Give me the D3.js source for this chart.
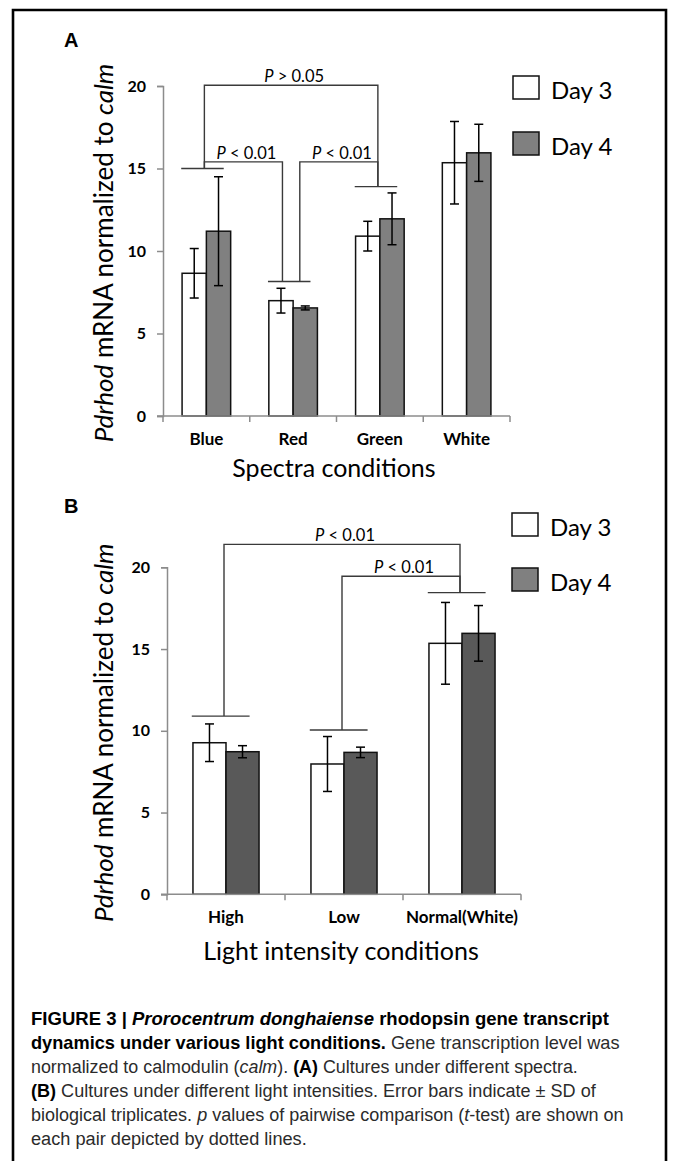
<!DOCTYPE html>
<html>
<head>
<meta charset="utf-8">
<script src="https://cdn.jsdelivr.net/npm/d3@7"></script>
<style>
  body { margin: 0; background: #fff; }
  .chart text { font-family: Lato, "Open Sans", sans-serif; fill: #000; }
  .caption text { font-family: "Liberation Sans", Arial, sans-serif; }
</style>
</head>
<body>
<svg id="fig" width="673" height="1161"></svg>
<script>
// ---------------- DATA ----------------
const seriesNames = ["Day 3", "Day 4"];
const yTicks = [0, 5, 10, 15, 20];

// panel A: spectra
const spectra = ["Blue", "Red", "Green", "White"];
const spectraDay3 = [8.65, 6.99, 10.9, 15.35];
const spectraDay3Sd = [1.5, 0.75, 0.9, 2.5];
const spectraDay4 = [11.2, 6.55, 11.95, 15.95];
const spectraDay4Sd = [3.3, 0.12, 1.57, 1.73];
const spectraGroupLine = [15.0, 8.15, 13.9, null];
const spectraPairs = [
  ["Blue", "Red", 15.4, "< 0.01"],
  ["Red", "Green", 15.4, "< 0.01"],
  ["Blue", "Green", 20.05, "> 0.05"],
];

// panel B: light intensity
const intensity = ["High", "Low", "Normal(White)"];
const intensityDay3 = [9.27, 7.97, 15.35];
const intensityDay3Sd = [1.15, 1.68, 2.5];
const intensityDay4 = [8.72, 8.68, 15.96];
const intensityDay4Sd = [0.37, 0.32, 1.7];
const intensityGroupLine = [10.9, 10.05, 18.45];
const intensityPairs = [
  ["High", "Normal(White)", 21.4, "< 0.01"],
  ["Low", "Normal(White)", 19.45, "< 0.01"],
];

const captionLines = [
  [["b", "FIGURE 3 | "], ["bi", "Prorocentrum donghaiense"], ["b", " rhodopsin gene transcript"]],
  [["b", "dynamics under various light conditions."], ["r", " Gene transcription level was"]],
  [["r", "normalized to calmodulin ("], ["i", "calm"], ["r", "). "], ["b", "(A)"], ["r", " Cultures under different spectra."]],
  [["b", "(B)"], ["r", " Cultures under different light intensities. Error bars indicate \u00b1 SD of"]],
  [["r", "biological triplicates. "], ["i", "p"], ["r", " values of pairwise comparison ("], ["i", "t"], ["r", "-test) are shown on"]],
  [["r", "each pair depicted by dotted lines."]],
];
const captionWidths = [578, 589, 547, 565, 593, 276];

const svg = d3.select("#fig");

// outer frame
svg.append("path")
  .attr("d", "M13,1170 V10 H666 V1170")
  .attr("fill", "none")
  .attr("stroke", "#000")
  .attr("stroke-width", 2.6);

// ---------------- PANEL ----------------
function drawPanel(opt) {
  const g = svg.append("g").attr("class", "chart");
  const cats = opt.categories;
  const rows = cats.map((c, i) => ({
    cat: c,
    vals: [
      { key: "d3", v: opt.day3[i], sd: opt.day3Sd[i] },
      { key: "d4", v: opt.day4[i], sd: opt.day4Sd[i] },
    ],
    group: opt.groupLine[i],
  }));

  const x = d3.scaleBand().domain(cats).range(opt.xRange);
  const bw = x.bandwidth();
  const x1 = d3.scaleBand().domain(["d3", "d4"]).range([0.22 * bw, 0.78 * bw]);
  const y = d3.scaleLinear().domain([0, 20]).range(opt.yRange);
  const fill = { d3: "#fff", d4: opt.day4Color };

  // bars
  const grp = g.selectAll(".cat").data(rows).enter().append("g")
    .attr("transform", (d) => `translate(${x(d.cat)},0)`);

  grp.selectAll("rect").data((d) => d.vals).enter().append("rect")
    .attr("x", (d) => x1(d.key))
    .attr("y", (d) => y(d.v))
    .attr("width", x1.bandwidth())
    .attr("height", (d) => y(0) - y(d.v))
    .attr("fill", (d) => fill[d.key])
    .attr("stroke", "#111")
    .attr("stroke-width", 1.5);

  // error bars
  const eb = grp.selectAll(".err").data((d) => d.vals).enter().append("g")
    .attr("stroke", "#000").attr("stroke-width", 1.5);
  const cx = (d) => x1(d.key) + x1.bandwidth() / 2;
  eb.append("line")
    .attr("x1", cx).attr("x2", cx)
    .attr("y1", (d) => y(d.v + d.sd)).attr("y2", (d) => y(d.v - d.sd));
  [1, -1].forEach((s) => {
    eb.append("line")
      .attr("x1", (d) => cx(d) - 4.5).attr("x2", (d) => cx(d) + 4.5)
      .attr("y1", (d) => y(d.v + s * d.sd)).attr("y2", (d) => y(d.v + s * d.sd));
  });

  // y axis
  const yAxis = g.append("g")
    .attr("transform", `translate(${opt.xRange[0]},0)`)
    .call(d3.axisLeft(y).tickValues(yTicks).tickSize(6).tickPadding(11));
  yAxis.select(".domain").attr("stroke", "#8c8c8c").attr("stroke-width", 1.5);
  yAxis.selectAll(".tick line").attr("stroke", "#8c8c8c").attr("stroke-width", 1.5);
  yAxis.selectAll(".tick text")
    .attr("font-size", 16).attr("font-weight", "bold")
    .style("font-family", "Lato, sans-serif").attr("fill", "#000");

  // x axis
  const xAxis = g.append("g").attr("transform", `translate(0,${y(0)})`);
  xAxis.append("line")
    .attr("x1", opt.xRange[0] - 6).attr("x2", opt.xRange[1])
    .attr("stroke", "#8c8c8c").attr("stroke-width", 1.5);
  const bounds = cats.map((c) => x(c)).concat([opt.xRange[1]]);
  xAxis.selectAll(".xt").data(bounds).enter().append("line")
    .attr("x1", (d) => d).attr("x2", (d) => d)
    .attr("y1", 0).attr("y2", 6)
    .attr("stroke", "#8c8c8c").attr("stroke-width", 1.5);
  xAxis.selectAll(".xl").data(cats).enter().append("text")
    .attr("x", (d) => x(d) + bw / 2)
    .attr("y", 29)
    .attr("text-anchor", "middle")
    .attr("font-size", 17).attr("font-weight", "bold")
    .text((d) => d);

  // significance brackets
  const lineColor = "#3a3a3a";
  const leftEnds = new Set(opt.pairs.map((p) => p[0]));
  const rightEnds = new Set(opt.pairs.map((p) => p[1]));
  const anchor = (c, side) => {
    let px = x(c) + bw / 2 - 2;
    if (leftEnds.has(c) && rightEnds.has(c)) px += side === "left" ? 0.1 * bw : -0.1 * bw;
    return px;
  };

  g.selectAll(".grpline").data(rows.filter((r) => r.group != null)).enter().append("line")
    .attr("x1", (d) => x(d.cat) + bw / 2 - 0.29 * bw)
    .attr("x2", (d) => x(d.cat) + bw / 2 + 0.2 * bw)
    .attr("y1", (d) => y(d.group)).attr("y2", (d) => y(d.group))
    .attr("stroke", lineColor).attr("stroke-width", 1.4);

  const groupOf = (c) => rows.find((r) => r.cat === c).group;
  g.selectAll(".bracket").data(opt.pairs).enter().append("path")
    .attr("d", (p) => {
      const xa = anchor(p[0], "left"), xb = anchor(p[1], "right");
      return `M${xa},${y(groupOf(p[0]))} V${y(p[2])} H${xb} V${y(groupOf(p[1]))}`;
    })
    .attr("fill", "none").attr("stroke", lineColor).attr("stroke-width", 1.4);

  const lab = g.selectAll(".plab").data(opt.pairs).enter().append("text")
    .attr("x", (p) => (anchor(p[0], "left") + anchor(p[1], "right")) / 2 + 3)
    .attr("y", (p) => y(p[2]) - 3)
    .attr("text-anchor", "middle")
    .attr("font-size", 16.5);
  lab.append("tspan").attr("font-style", "italic").text("P");
  lab.append("tspan").text((p) => " " + p[3]);

  // axis titles
  const yl = g.append("text")
    .attr("transform", `translate(${opt.yLabelX},${(opt.yRange[0] + opt.yRange[1]) / 2 + 2}) rotate(-90)`)
    .attr("text-anchor", "middle")
    .attr("font-size", 26);
  yl.append("tspan").attr("font-style", "italic").text("Pdrhod");
  yl.append("tspan").text(" mRNA normalized to ");
  yl.append("tspan").attr("font-style", "italic").text("calm");

  g.append("text")
    .attr("x", opt.titleX).attr("y", opt.titleY)
    .attr("text-anchor", "middle")
    .attr("font-size", 25)
    .text(opt.title);

  // legend
  const leg = g.selectAll(".leg").data(seriesNames).enter().append("g")
    .attr("transform", (d, i) => `translate(${opt.legendX},${opt.legendY[i]})`);
  leg.append("rect")
    .attr("width", 26).attr("height", 23)
    .attr("fill", (d, i) => (i === 0 ? "#fff" : "#808080"))
    .attr("stroke", "#111").attr("stroke-width", 1.5);
  leg.append("text")
    .attr("x", 38).attr("y", 23)
    .attr("font-size", 24)
    .text((d) => d);

  // panel letter
  svg.append("text")
    .attr("x", opt.letterPos[0]).attr("y", opt.letterPos[1])
    .attr("font-family", "Liberation Sans, Arial, sans-serif")
    .attr("font-weight", "bold").attr("font-size", 20)
    .text(opt.letter);
}

drawPanel({
  letter: "A", letterPos: [64, 47],
  categories: spectra,
  day3: spectraDay3, day3Sd: spectraDay3Sd,
  day4: spectraDay4, day4Sd: spectraDay4Sd,
  groupLine: spectraGroupLine, pairs: spectraPairs,
  day4Color: "#808080",
  xRange: [163, 510], yRange: [416, 86],
  yLabelX: 113, title: "Spectra conditions", titleX: 334, titleY: 477,
  legendX: 513, legendY: [76, 132],
});

drawPanel({
  letter: "B", letterPos: [64, 513],
  categories: intensity,
  day3: intensityDay3, day3Sd: intensityDay3Sd,
  day4: intensityDay4, day4Sd: intensityDay4Sd,
  groupLine: intensityGroupLine, pairs: intensityPairs,
  day4Color: "#595959",
  xRange: [167, 521], yRange: [894.3, 567.3],
  yLabelX: 113, title: "Light intensity conditions", titleX: 341, titleY: 960,
  legendX: 512, legendY: [513, 568],
});

// ---------------- CAPTION ----------------
// caption font is condensed in the original, so each line is squeezed to its width
const cap = svg.append("g").attr("class", "caption");
cap.selectAll("text").data(captionLines).enter().append("text")
  .attr("x", 0)
  .attr("y", 0)
  .attr("font-size", 19)
  .style("white-space", "pre")
  .each(function (parts, i) {
    const t = d3.select(this);
    parts.forEach(([s, str]) => {
      t.append("tspan")
        .attr("font-weight", s.includes("b") ? "bold" : "normal")
        .attr("font-style", s.includes("i") ? "italic" : "normal")
        .attr("fill", s.includes("b") ? "#000" : "#2b2b2b")
        .text(str);
    });
    const natural = this.getComputedTextLength();
    const k = captionWidths[i] / natural;
    t.attr("transform", `translate(31,${1025 + i * 24}) scale(${k},1)`);
  });
</script>
</body>
</html>
